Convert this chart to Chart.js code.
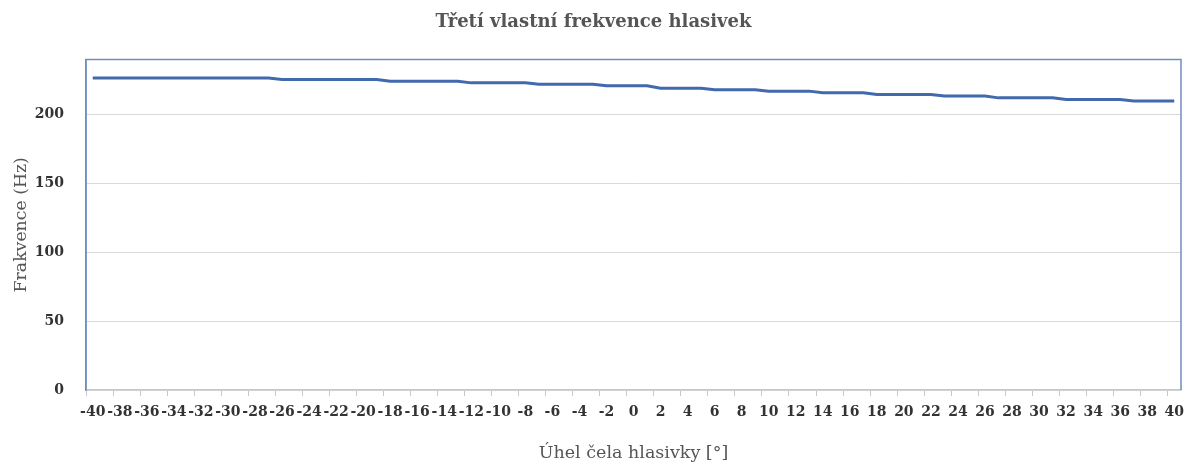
<!DOCTYPE html>
<html>
<head>
<meta charset="utf-8">
<script src="https://cdn.jsdelivr.net/npm/chart.js@4"></script>
<style>
  html, body { margin: 0; padding: 0; background: #fff; }
  #wrap { width: 1186px; height: 466px; }
</style>
</head>
<body>
<div id="wrap"><canvas id="freqChart"></canvas></div>
<script>
// angle of the vocal fold front [deg]
const angles = [
  -40, -39, -38, -37, -36, -35, -34, -33, -32, -31, -30, -29, -28, -27,
  -26, -25, -24, -23, -22, -21, -20, -19, -18, -17, -16, -15, -14, -13,
  -12, -11, -10, -9, -8, -7, -6, -5, -4, -3, -2, -1, 0, 1,
  2, 3, 4, 5, 6, 7, 8, 9, 10, 11, 12, 13, 14, 15, 16, 17,
  18, 19, 20, 21, 22, 23, 24, 25, 26, 27, 28, 29, 30, 31,
  32, 33, 34, 35, 36, 37, 38, 39, 40
];

// third eigenfrequency [Hz]
const freq3 = [
  226.6, 226.6, 226.6, 226.6, 226.6, 226.6, 226.6, 226.6, 226.6, 226.6, 226.6, 226.6, 226.6, 226.6,
  225.6, 225.6, 225.6, 225.6, 225.6, 225.6, 225.6, 225.6,
  224.3, 224.3, 224.3, 224.3, 224.3, 224.3,
  223.1, 223.1, 223.1, 223.1, 223.1,
  222.1, 222.1, 222.1, 222.1, 222.1,
  221.0, 221.0, 221.0, 221.0,
  219.2, 219.2, 219.2, 219.2,
  218.1, 218.1, 218.1, 218.1,
  217.1, 217.1, 217.1, 217.1,
  215.9, 215.9, 215.9, 215.9,
  214.7, 214.7, 214.7, 214.7, 214.7,
  213.5, 213.5, 213.5, 213.5,
  212.2, 212.2, 212.2, 212.2, 212.2,
  211.0, 211.0, 211.0, 211.0, 211.0,
  210.0, 210.0, 210.0, 210.0
];

const yTicks = [0, 50, 100, 150, 200];

const serif = "'DejaVu Serif', 'Liberation Serif', serif";

// blue frame around the plot area (top / right / left)
const plotFrame = {
  id: 'plotFrame',
  beforeDatasetsDraw(chart) {
    const { ctx, chartArea: a } = chart;
    ctx.save();
    ctx.strokeStyle = '#6f8fc2';
    ctx.lineWidth = 1.5;
    ctx.beginPath();
    ctx.moveTo(a.left, a.bottom);
    ctx.lineTo(a.left, a.top);
    ctx.lineTo(a.right, a.top);
    ctx.lineTo(a.right, a.bottom);
    ctx.stroke();
    ctx.restore();
  }
};

const ctx = document.getElementById('freqChart').getContext('2d');

new Chart(ctx, {
  type: 'line',
  data: {
    labels: angles.map(String),
    datasets: [{
      label: 'Frekvence',
      data: freq3,
      borderColor: '#4169ad',
      borderWidth: 3,
      pointRadius: 0,
      tension: 0,
      fill: false
    }]
  },
  options: {
    responsive: true,
    maintainAspectRatio: false,
    animation: false,
    layout: { padding: { left: 6, right: 5, top: 0, bottom: 2 } },
    plugins: {
      legend: { display: false },
      tooltip: { enabled: false },
      title: {
        display: true,
        text: 'Třetí vlastní frekvence hlasivek',
        color: '#555',
        font: { family: serif, size: 18, weight: 'bold' },
        padding: { top: 12, bottom: 26 }
      }
    },
    scales: {
      x: {
        type: 'category',
        offset: true,
        afterFit: s => {
          s.height = 74;
          s.paddingLeft = 0;
          s.paddingRight = 0;
        },
        grid: {
          offset: true,
          drawOnChartArea: false,
          drawTicks: true,
          tickLength: 6,
          tickColor: c => (c.index % 2 === 0 ? '#c8c8c8' : 'rgba(0,0,0,0)')
        },
        border: { color: '#c8c8c8', width: 1.5 },
        ticks: {
          autoSkip: false,
          maxRotation: 0,
          minRotation: 0,
          padding: 8,
          color: '#333',
          font: { family: serif, size: 14, weight: 'bold' },
          callback: function (v, i) {
            return i % 2 === 0 ? this.getLabelForValue(v) : '';
          }
        },
        title: {
          display: true,
          text: 'Úhel čela hlasivky [°]',
          color: '#555',
          font: { family: serif, size: 17.5 },
          padding: { top: 21, bottom: 0 }
        }
      },
      y: {
        min: 0,
        max: 240,
        afterBuildTicks: axis => {
          axis.ticks = yTicks.map(v => ({ value: v }));
        },
        afterFit: s => {
          s.width = 80;
        },
        grid: {
          color: '#d9d9d9',
          lineWidth: 1,
          drawTicks: false
        },
        border: { color: '#6f8fc2', width: 1.5 },
        ticks: {
          padding: 22,
          color: '#333',
          font: { family: serif, size: 14, weight: 'bold' }
        },
        title: {
          display: true,
          text: 'Frakvence (Hz)',
          color: '#555',
          font: { family: serif, size: 17.3 },
          padding: { top: 5.5, bottom: 2.5 }
        }
      }
    }
  },
  plugins: [plotFrame]
});
</script>
</body>
</html>
